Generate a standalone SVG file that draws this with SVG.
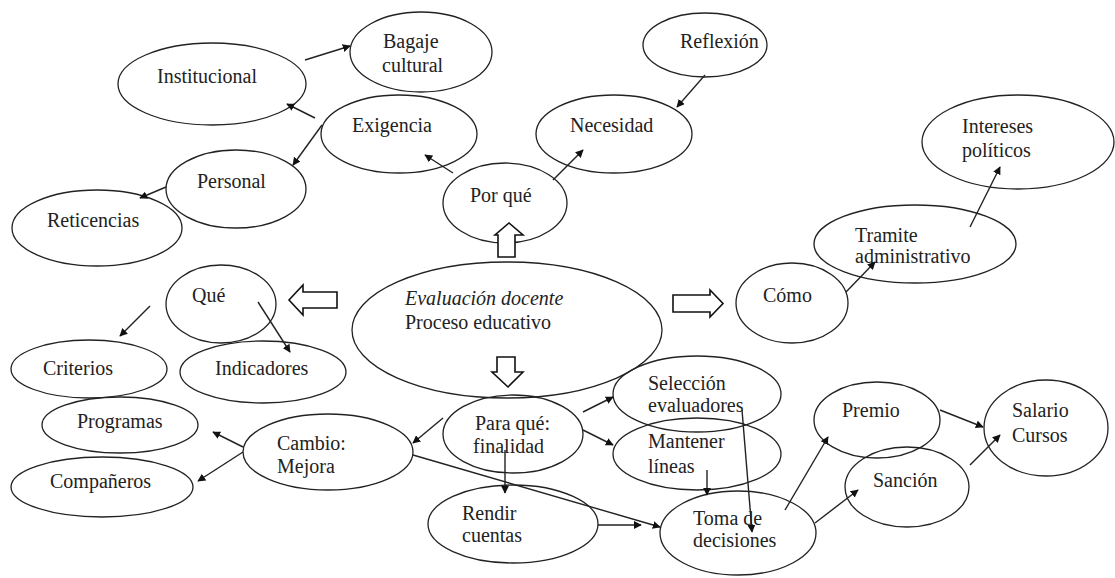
<svg xmlns="http://www.w3.org/2000/svg" width="1115" height="578" viewBox="0 0 1115 578">
<style>
.n ellipse{fill:none;stroke:#222;stroke-width:1.3}
.c line{stroke:#222;stroke-width:1.4;marker-end:url(#ah)}
.b{fill:#fff;stroke:#111;stroke-width:1.6}
</style>
<defs>
<marker id="ah" viewBox="0 0 10 10" refX="9" refY="5" markerWidth="8" markerHeight="8" markerUnits="userSpaceOnUse" orient="auto">
<path d="M0,0 L10,5 L0,10 z" fill="#111"/>
</marker>
</defs>
<rect width="1115" height="578" fill="#fff"/>

<g id="nodes" font-family="Liberation Serif, Times New Roman, serif" font-size="20" fill="#222">
<g id="institucional" class="n"><ellipse cx="212" cy="84" rx="94" ry="41"/><text x="157" y="83">Institucional</text></g>
<g id="bagaje" class="n"><ellipse cx="421" cy="52" rx="71" ry="40"/><text x="383" y="48">Bagaje</text><text x="382" y="72">cultural</text></g>
<g id="exigencia" class="n"><ellipse cx="399" cy="134" rx="78" ry="39"/><text x="352" y="132">Exigencia</text></g>
<g id="personal" class="n"><ellipse cx="236" cy="189" rx="70" ry="39"/><text x="197" y="188">Personal</text></g>
<g id="reticencias" class="n"><ellipse cx="97" cy="228" rx="85" ry="38"/><text x="47" y="227">Reticencias</text></g>
<g id="reflexion" class="n"><ellipse cx="705" cy="45" rx="62" ry="32"/><text x="680" y="48">Reflexión</text></g>
<g id="necesidad" class="n"><ellipse cx="614" cy="134" rx="78" ry="39"/><text x="570" y="132">Necesidad</text></g>
<g id="porque" class="n"><ellipse cx="505" cy="203" rx="62" ry="40"/><text x="470" y="202">Por qué</text></g>
<g id="intereses" class="n"><ellipse cx="1018" cy="142" rx="96" ry="47"/><text x="962" y="133">Intereses</text><text x="962" y="157">políticos</text></g>
<g id="tramite" class="n"><ellipse cx="915" cy="244" rx="101" ry="39"/><text x="855" y="242">Tramite</text><text x="855" y="263">administrativo</text></g>
<g id="como" class="n"><ellipse cx="792" cy="303" rx="56" ry="40"/><text x="763" y="302">Cómo</text></g>
<g id="evaluacion" class="n"><ellipse cx="507" cy="330" rx="155" ry="68"/><text x="405" y="305" font-style="italic">Evaluación docente</text><text x="405" y="329">Proceso educativo</text></g>
<g id="que" class="n"><ellipse cx="221" cy="304" rx="55" ry="39"/><text x="192" y="302">Qué</text></g>
<g id="criterios" class="n"><ellipse cx="89" cy="369" rx="78" ry="29"/><text x="43" y="375">Criterios</text></g>
<g id="indicadores" class="n"><ellipse cx="263" cy="372" rx="83" ry="31"/><text x="215" y="375">Indicadores</text></g>
<g id="programas" class="n"><ellipse cx="120" cy="425" rx="78" ry="28"/><text x="77" y="428">Programas</text></g>
<g id="companeros" class="n"><ellipse cx="102" cy="487" rx="91" ry="30"/><text x="50" y="488">Compañeros</text></g>
<g id="cambio" class="n"><ellipse cx="328" cy="452" rx="85" ry="38"/><text x="277" y="450">Cambio:</text><text x="277" y="473">Mejora</text></g>
<g id="paraque" class="n"><ellipse cx="513" cy="434" rx="70" ry="39"/><text x="475" y="430">Para qué:</text><text x="473" y="453">finalidad</text></g>
<g id="seleccion" class="n"><ellipse cx="697" cy="394" rx="84" ry="38"/><text x="648" y="390">Selección</text><text x="648" y="412">evaluadores</text></g>
<g id="mantener" class="n"><ellipse cx="697" cy="454" rx="84" ry="36"/><text x="648" y="448">Mantener</text><text x="648" y="473">líneas</text></g>
<g id="rendir" class="n"><ellipse cx="513" cy="524" rx="85" ry="39"/><text x="462" y="520">Rendir</text><text x="462" y="542">cuentas</text></g>
<g id="toma" class="n"><ellipse cx="738" cy="533" rx="78" ry="42"/><text x="693" y="525">Toma de</text><text x="693" y="547">decisiones</text></g>
<g id="premio" class="n"><ellipse cx="877" cy="420" rx="63" ry="38"/><text x="842" y="417">Premio</text></g>
<g id="sancion" class="n"><ellipse cx="907" cy="487" rx="62" ry="40"/><text x="873" y="487">Sanción</text></g>
<g id="salario" class="n"><ellipse cx="1046" cy="428" rx="62" ry="48"/><text x="1012" y="417">Salario</text><text x="1012" y="442">Cursos</text></g>
</g>

<g id="connectors" class="c">
<line x1="305" y1="60" x2="350" y2="46"/>
<line x1="315" y1="118" x2="287" y2="104"/>
<line x1="322" y1="125" x2="293" y2="165"/>
<line x1="166" y1="187" x2="140" y2="198"/>
<line x1="453" y1="173" x2="425" y2="155"/>
<line x1="553" y1="180" x2="583" y2="150"/>
<line x1="705" y1="75" x2="677" y2="107"/>
<line x1="846" y1="292" x2="875" y2="262"/>
<line x1="970" y1="227" x2="1000" y2="167"/>
<line x1="150" y1="306" x2="120" y2="336"/>
<line x1="258" y1="302" x2="290" y2="352"/>
<line x1="243" y1="447" x2="213" y2="432"/>
<line x1="243" y1="452" x2="198" y2="481"/>
<line x1="443" y1="418" x2="413" y2="443"/>
<line x1="413" y1="455" x2="660" y2="527"/>
<line x1="583" y1="412" x2="613" y2="397"/>
<line x1="583" y1="430" x2="613" y2="445"/>
<line x1="505" y1="450" x2="505" y2="493"/>
<line x1="598" y1="525" x2="641" y2="525"/>
<line x1="707" y1="470" x2="707" y2="495"/>
<line x1="742" y1="410" x2="752" y2="532"/>
<line x1="785" y1="510" x2="828" y2="437"/>
<line x1="815" y1="523" x2="858" y2="490"/>
<line x1="940" y1="410" x2="983" y2="427"/>
<line x1="970" y1="465" x2="1000" y2="435"/>
<path class="b" d="M498,257 L498,235 L495,235 L509,223 L523,235 L515,235 L515,257 Z"/>
<path class="b" d="M673,295 L710,295 L710,290 L723,303.5 L710,317 L710,312 L673,312 Z"/>
<path class="b" d="M337,292 L303,292 L303,285 L289,300 L303,315 L303,308 L337,308 Z"/>
<path class="b" d="M497,357 L515,357 L515,372 L523,372 L508,387 L492,372 L497,372 Z"/>
</g>
</svg>
